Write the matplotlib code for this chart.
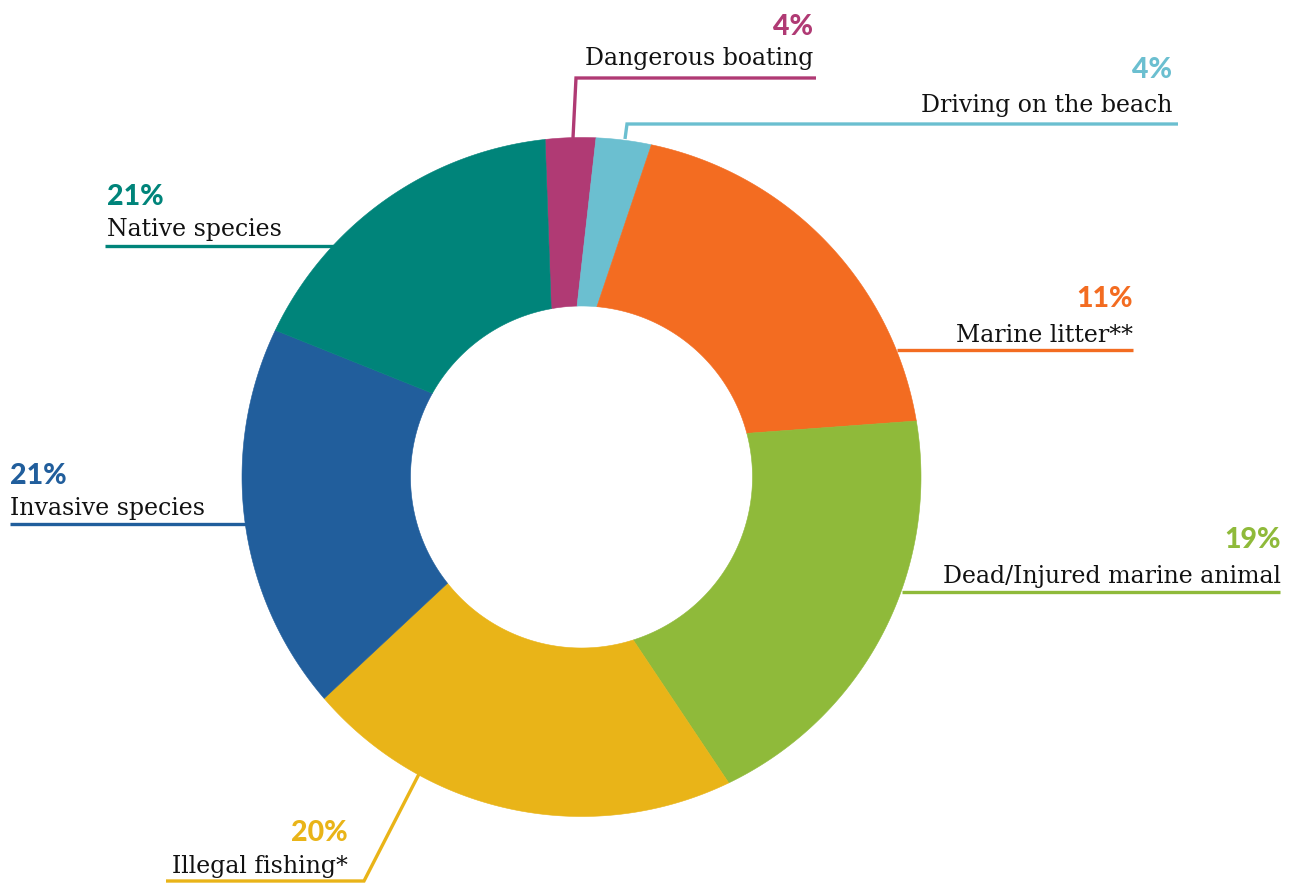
import matplotlib
matplotlib.use("Agg")
import matplotlib.pyplot as plt
import numpy as np
from matplotlib.patches import Polygon

# ---- data ----
categories = ["Dangerous boating", "Driving on the beach", "Marine litter**",
              "Dead/Injured marine animal", "Illegal fishing*", "Invasive species",
              "Native species"]
# share of the ring drawn at its outer edge and at its inner edge
outer_share = [2.39, 2.62, 19.06, 20.50, 20.83, 18.42, 16.18]
inner_share = [2.42, 1.85, 19.46, 24.22, 19.22, 18.81, 14.03]
pct_labels = ["4%", "4%", "11%", "19%", "20%", "21%", "21%"]
colors = ["#b03a74", "#6bbfd0", "#f36c21", "#8fba3a", "#e9b418", "#215e9c", "#00847a"]

W, H = 1300, 884
fig = plt.figure(figsize=(W / 100, H / 100), dpi=100)
ax = fig.add_axes([0, 0, 1, 1])
ax.set_xlim(0, W)
ax.set_ylim(0, H)
ax.set_aspect("equal")
ax.axis("off")

def Y(y):
    return H - y

cx, cy, R, r_in = 581.5, 477, 339.5, 171
outer_start = 353.85   # degrees clockwise from 12 o'clock
inner_start = 349.8

def bounds(shares, start):
    s = np.asarray(shares, float)
    cum = np.concatenate([[0], np.cumsum(s / s.sum() * 360.0)])
    return start + cum

ob = bounds(outer_share, outer_start)
ib = bounds(inner_share, inner_start)

def pt(angle_deg, rad):
    a = np.deg2rad(angle_deg)
    return cx + rad * np.sin(a), Y(cy) + rad * np.cos(a)

for i, c in enumerate(colors):
    ta = np.linspace(ob[i], ob[i + 1], 120)
    tb = np.linspace(ib[i + 1], ib[i], 120)
    xo, yo = pt(ta, R)
    xi, yi = pt(tb, r_in)
    verts = np.column_stack([np.concatenate([xo, xi]), np.concatenate([yo, yi])])
    ax.add_patch(Polygon(verts, closed=True, facecolor=c, edgecolor=c, linewidth=0.4))

lw = 2.4
# leader lines (pixel coords)
leaders = [
    [(573, 138), (576, 78), (816, 78)],
    [(625, 139), (627, 124), (1178, 124)],
    [(897, 350), (1133, 350)],
    [(902, 592), (1280, 592)],
    [(419, 774), (364, 881), (166, 881)],
    [(10, 524), (246, 524)],
    [(105, 246), (335, 246)],
]
for pts, c in zip(leaders, colors):
    xs = [p[0] for p in pts]
    ys = [Y(p[1]) for p in pts]
    ax.plot(xs, ys, color=c, lw=lw, solid_capstyle="butt", solid_joinstyle="miter")

# label positions: (x, baseline_pct, baseline_name, ha)
label_pos = [
    (813, 35, 65, "right"),
    (1172, 78, 112, "right"),
    (1133, 307, 342, "right"),
    (1281, 548, 583, "right"),
    (348, 841, 873, "right"),
    (10, 484, 515, "left"),
    (107, 205, 236, "left"),
]
for (x, yp, yn, ha), name, pct, c in zip(label_pos, categories, pct_labels, colors):
    ax.text(x, Y(yp), pct, ha=ha, va="baseline", color=c, fontsize=20.5,
            fontweight="black", family=["Lato", "DejaVu Sans"])
    ax.text(x, Y(yn), name, ha=ha, va="baseline", color="#111111", fontsize=17,
            family=["DejaVu Serif"])

fig.savefig("out.png", dpi=100)
